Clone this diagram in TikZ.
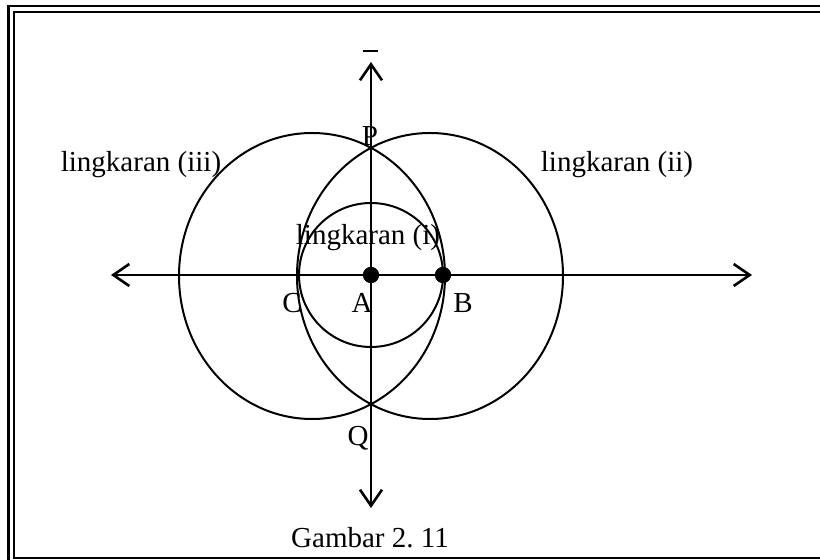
\documentclass[tikz,border=0pt]{standalone}
\usepackage{fontspec}
\setmainfont{Liberation Serif}
\usetikzlibrary{arrows.meta}
\begin{document}
\begin{tikzpicture}[x=0.5pt, y=-0.5pt,
        sumbu/.style={line width=1.1pt, {Straight Barb[length=8pt, width=11pt, line width=1.3pt]}-{Straight Barb[length=8pt, width=11pt, line width=1.3pt]}},
        lingkaran/.style={line width=1pt},
        titik/.style={circle, fill, inner sep=0pt, minimum size=8pt},
        teks/.style={font=\fontsize{14.5}{17}\selectfont, inner sep=0pt}
    ]
        \useasboundingbox (0,0) rectangle (820,560);
        % bingkai
        \draw[line width=1.4pt] (8.5,560) -- (8.5,6) -- (820,6);
        \draw[line width=1.2pt] (820,558) -- (14,558) -- (14,12) -- (820,12);
        % titik-titik
        \coordinate (kiri) at (111,275);
        \coordinate (kanan) at (752,275);
        \coordinate (atas) at (371,62);
        \coordinate (bawah) at (371,508);
        \node[titik] (A) at (371,275) {};
        \node[titik] (B) at (443,275) {};
        \coordinate (C) at (299,275);
        % lingkaran
        \draw[lingkaran] (A) circle[radius=72];
        \draw[lingkaran] (312,276) ellipse[x radius=133, y radius=143];
        \draw[lingkaran] (430,276) ellipse[x radius=133, y radius=143];
        % sumbu
        \draw[sumbu] (kiri) -- (kanan);
        \draw[sumbu] (bawah) -- (atas);
        \node[titik] at (A) {};
        \node[titik] at (B) {};
        % label
        \node (garis) at (370,51) {\rule{7.5pt}{0.6pt}};
        \node[teks] (lP) at (370,136) {P};
        \node[teks] (lQ) at (358,438) {Q};
        \node[teks] (lA) at (362,303) {A};
        \node[teks] (lB) at (463,303) {B};
        \node[teks] (lC) at (292,303) {C};
        \node[teks] (l1) at (368,238) {lingkaran (i)};
        \node[teks] (l2) at (617,165) {lingkaran (ii)};
        \node[teks] (l3) at (141,165) {lingkaran (iii)};
        \node[teks] (judul) at (370,538) {Gambar 2.\ 11};
    \end{tikzpicture}
\end{document}
